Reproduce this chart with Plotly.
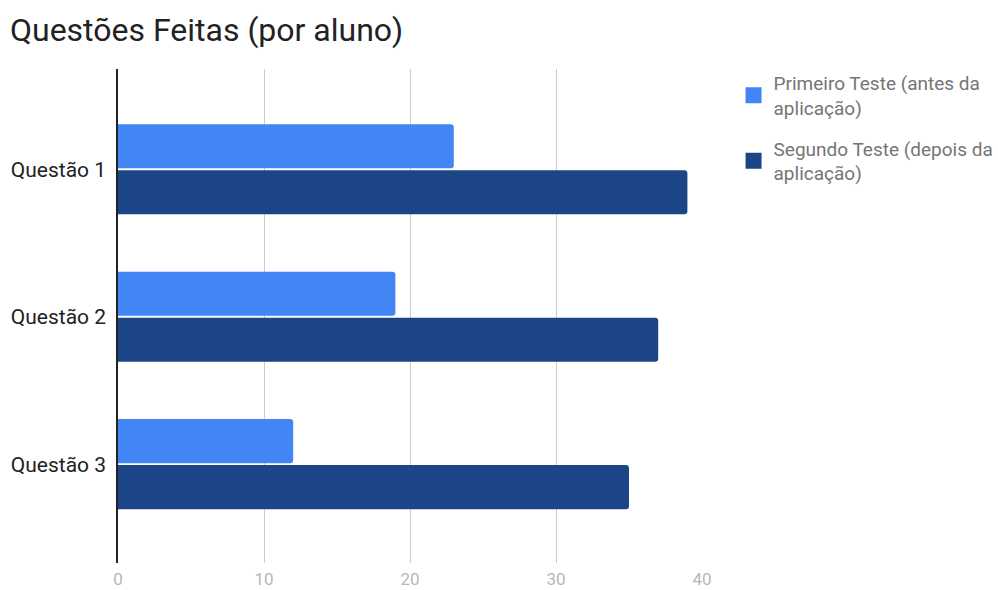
import plotly.graph_objects as go

categorias = ["Questão 1", "Questão 2", "Questão 3"]
primeiro_teste = [23, 19, 12]
segundo_teste = [39, 37, 35]
nome_primeiro = "Primeiro Teste (antes da<br>aplicação)"
nome_segundo = "Segundo Teste (depois da<br>aplicação)"
cores = ["#4285F4", "#1C4587"]
x_ticks = [0, 10, 20, 30, 40]

fig = go.Figure()
for nome, vals, cor, grp in [(nome_primeiro, primeiro_teste, cores[0], "a"),
                             (nome_segundo, segundo_teste, cores[1], "b")]:
    fig.add_trace(go.Bar(y=categorias, x=vals, name=nome, orientation="h", legendgroup=grp,
                         showlegend=False, marker=dict(color=cor, line=dict(width=0))))
for nome, cor, grp in [(nome_primeiro, cores[0], "a"), (nome_segundo, cores[1], "b")]:
    fig.add_trace(go.Scatter(x=[None], y=[None], mode="markers", name=nome, legendgroup=grp,
                             marker=dict(symbol="square", size=18, color=cor), hoverinfo="skip"))

fig.update_layout(
    width=998, height=590,
    paper_bgcolor="white", plot_bgcolor="white",
    font=dict(family="Roboto", size=19, color="#222222"),
    title=dict(text="Questões Feitas (por aluno)", x=0.01, xanchor="left", y=0.949, yanchor="middle",
               font=dict(family="Roboto", size=32, color="#222222")),
    margin=dict(l=118, r=296, t=69, b=27, autoexpand=False),
    barmode="group", bargap=0.376, bargroupgap=0.04, barcornerradius=3,
    xaxis=dict(range=[0, 40], tickvals=x_ticks, showgrid=True, gridcolor="#cccccc", gridwidth=1,
               zeroline=False, showline=False, ticks="outside", ticklen=1, tickcolor="rgba(0,0,0,0)",
               tickfont=dict(size=17, color="#b7b7b7"), automargin=False),
    yaxis=dict(categoryorder="array", categoryarray=categorias, range=[2.67, -0.68],
               showline=True, linecolor="#222222", linewidth=1.5, showgrid=False,
               ticks="outside", ticklen=6, tickcolor="rgba(0,0,0,0)",
               tickfont=dict(size=21, color="#222222"), automargin=False),
    legend=dict(x=1.054, y=1.010, xanchor="left", yanchor="top", traceorder="grouped",
                font=dict(size=19, color="#757575"), tracegroupgap=13, itemwidth=30,
                itemsizing="trace"),
    showlegend=True,
)

fig.write_html("out.html")
